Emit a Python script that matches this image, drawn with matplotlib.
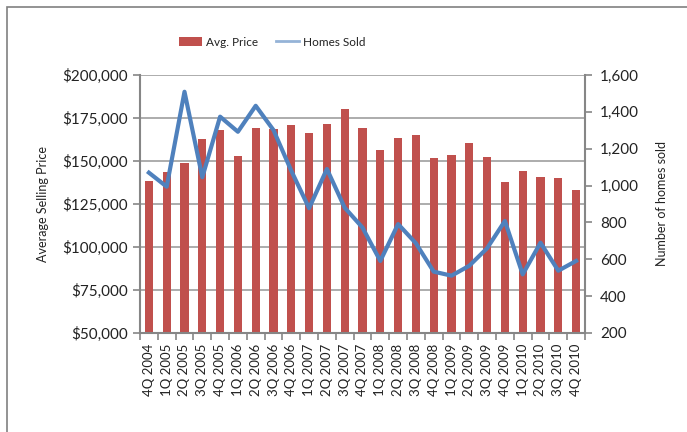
import matplotlib
matplotlib.use("Agg")
import matplotlib.pyplot as plt
from matplotlib.patches import Rectangle, Patch
from matplotlib.lines import Line2D
from matplotlib.ticker import FuncFormatter, MultipleLocator, FixedLocator

plt.rcParams['font.family'] = ['Lato', 'DejaVu Sans']

quarters = ["4Q 2004",
            "1Q 2005", "2Q 2005", "3Q 2005", "4Q 2005",
            "1Q 2006", "2Q 2006", "3Q 2006", "4Q 2006",
            "1Q 2007", "2Q 2007", "3Q 2007", "4Q 2007",
            "1Q 2008", "2Q 2008", "3Q 2008", "4Q 2008",
            "1Q 2009", "2Q 2009", "3Q 2009", "4Q 2009",
            "1Q 2010", "2Q 2010", "3Q 2010", "4Q 2010"]
avg_price = [138400, 143600, 148800, 162800, 168000, 152900, 169200, 168600,
             170900, 166300, 171500, 180200, 169200, 156400, 163400, 165100,
             151700, 153500, 160500, 152300, 137800, 144200, 140700, 140100,
             133100]
homes_sold = [1070, 994, 1509, 1045, 1374, 1292, 1433, 1301, 1080, 877, 1090,
              880, 772, 591, 791, 687, 533, 511, 565, 660, 808, 518, 690, 538,
              591]

bar_color = "#C0504D"
line_color = "#4F81BD"
axis_gray = "#868686"
grid_gray = "#A6A6A6"

fig = plt.figure(figsize=(6.87, 4.32), dpi=100)
ax = fig.add_axes([140/687, 1-333/432, 445/687, 258/432])
x = list(range(len(quarters)))
ax.bar(x, avg_price, width=0.45, color=bar_color, zorder=2, bottom=0)
ax.set_ylim(50000, 200000)
ax.set_xlim(-0.5, len(quarters) - 0.5)
ax.yaxis.set_major_locator(MultipleLocator(25000))
ax.yaxis.set_major_formatter(FuncFormatter(lambda v, p: "${:,.0f}".format(v)))
ax.grid(axis='y', color=grid_gray, linewidth=1.3, zorder=0)
ax.set_axisbelow(True)
ax.set_xticks(x)
ax.set_xticklabels(quarters, rotation=90, fontsize=9.5, color="#222222")
ax.xaxis.set_minor_locator(FixedLocator([i - 0.5 for i in range(len(quarters) + 1)]))
ax.tick_params(axis='x', which='major', length=0, pad=8)
ax.tick_params(axis='x', which='minor', length=5, color=axis_gray, width=1.2)
ax.tick_params(axis='y', length=5, color=axis_gray, width=1.2, labelsize=11)
for lbl in ax.get_yticklabels():
    lbl.set_color("#222222")
for s in ['top', 'right']:
    ax.spines[s].set_visible(False)
for s in ['left', 'bottom']:
    ax.spines[s].set_color(axis_gray)
    ax.spines[s].set_linewidth(1.5)
ax.set_ylabel("Average Selling Price", fontsize=9, labelpad=10, color="#222222")

ax2 = ax.twinx()
ax2.plot(x, homes_sold, color=line_color, linewidth=3, zorder=3)
ax2.set_ylim(200, 1600)
ax2.yaxis.set_major_locator(MultipleLocator(200))
ax2.yaxis.set_major_formatter(FuncFormatter(lambda v, p: "{:,.0f}".format(v)))
ax2.tick_params(axis='y', length=5, color=axis_gray, width=1.2, labelsize=11, pad=6)
for lbl in ax2.get_yticklabels():
    lbl.set_color("#222222")
for s in ['top', 'left', 'bottom']:
    ax2.spines[s].set_visible(False)
ax2.spines['right'].set_color(axis_gray)
ax2.spines['right'].set_linewidth(1.5)
ax2.set_ylabel("Number of homes sold", fontsize=9, labelpad=12, color="#222222")

handles = [Patch(facecolor=bar_color, edgecolor='none'),
           Line2D([0], [0], color="#95B3D7", linewidth=2)]
fig.legend(handles, ["Avg. Price", "Homes Sold"], loc='center',
           bbox_to_anchor=(272/687, 1-42/432), ncol=2, frameon=False, fontsize=8.5,
           handlelength=2.0, handleheight=0.7, columnspacing=1.5,
           handletextpad=0.3, labelcolor="#222222")

fig.patches.append(Rectangle((7/687, -0.05), 1.1, 1-7/432+0.05,
                             transform=fig.transFigure, fill=False,
                             edgecolor="#808080", linewidth=1.2))

fig.savefig("out.png", dpi=100)
